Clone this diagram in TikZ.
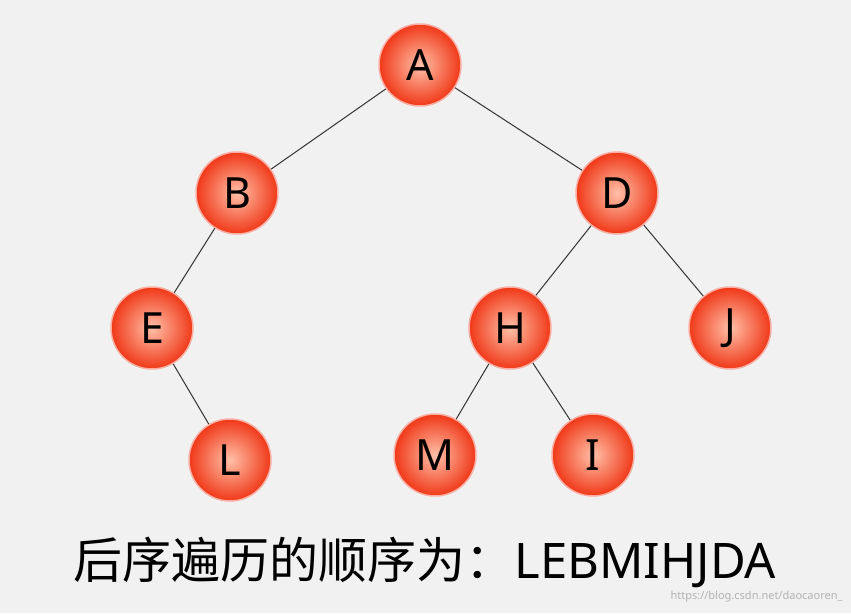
\documentclass[tikz,border=0pt]{standalone}
\usepackage{fontspec}
\setmainfont{Noto Sans}
\newfontfamily\cjk{Noto Sans CJK SC}
\usetikzlibrary{positioning}
\definecolor{bgcol}{HTML}{F2F1F2}
\definecolor{ballin}{HTML}{FFC0A8}
\definecolor{ballout}{HTML}{F03818}
\tikzset{
  vertex/.style={circle, minimum size=82pt, inner sep=0pt, draw=white!60!ballout, line width=1.5pt,
    inner color=ballin, outer color=ballout, font=\fontsize{43}{46}\selectfont},
  edge/.style={black!80, line width=1pt}
}
\begin{document}
\begin{tikzpicture}[x=1pt, y=-1pt]
\fill[bgcol] (0,0) rectangle (851,613);
\useasboundingbox (0,0) rectangle (851,613);
%level 0 and 1
\node[vertex] (a) at (420,65) {A};
\node[vertex] (b) at (237,193) {B};
\node[vertex] (d) at (617,193) {D};
%level 2
\node[vertex] (e) at (152,328) {E};
\node[vertex] (h) at (510,328) {H};
\node[vertex] (j) at (730,328) {J};
%level 3
\node[vertex] (l) at (230,460) {L};
\node[vertex] (m) at (435,455) {M};
\node[vertex] (i) at (593,455) {I};
\draw[edge] (a) -- (b);
\draw[edge] (a) -- (d);
\draw[edge] (b) -- (e);
\draw[edge] (e) -- (l);
\draw[edge] (d) -- (h);
\draw[edge] (d) -- (j);
\draw[edge] (h) -- (m);
\draw[edge] (h) -- (i);
\node[anchor=west, font=\fontsize{49}{52}\selectfont] (caption) at (70,562) {\cjk 后序遍历的顺序为：\rmfamily LEBMIHJDA};
\node[anchor=east, text=black!30, font=\fontsize{11}{12}\selectfont] (mark) at (846,597) {https://blog.csdn.net/daocaoren\_};
\end{tikzpicture}
\end{document}
